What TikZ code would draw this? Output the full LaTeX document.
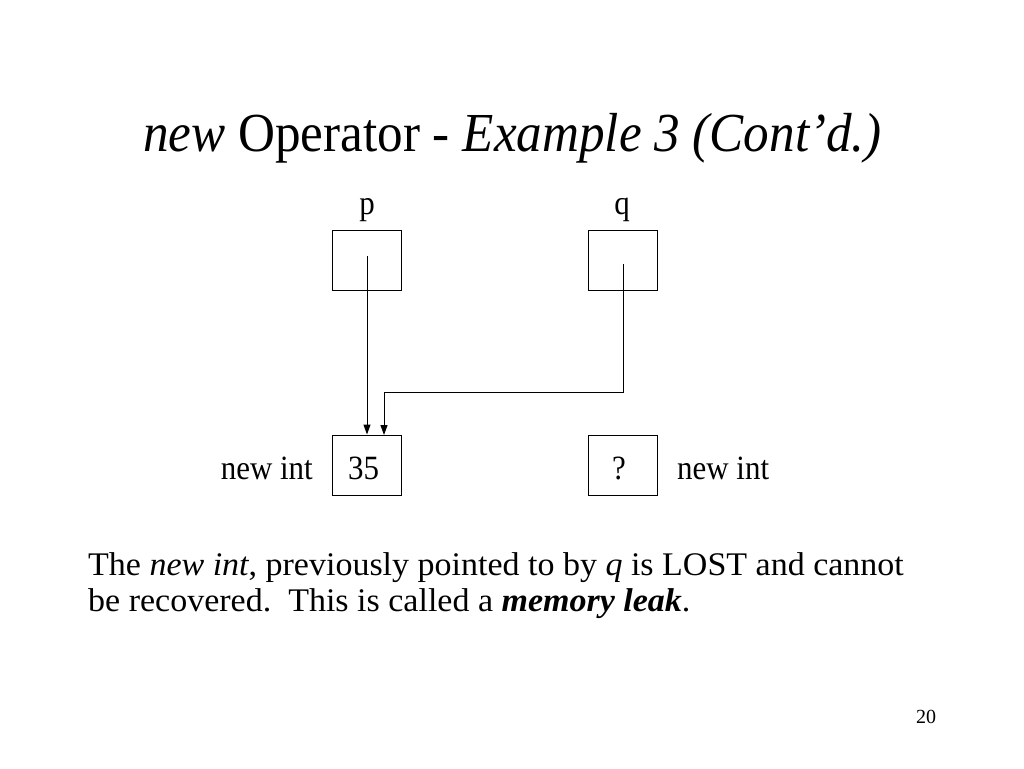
\documentclass[tikz,border=0pt]{standalone}
\usepackage{fontspec}
\usepackage{graphicx}
\setmainfont{Liberation Serif}
\usetikzlibrary{arrows.meta}
\tikzset{
  cell/.style={draw, line width=1pt, minimum width=69pt, minimum height=60pt, inner sep=0pt},
  lbl/.style={inner sep=0pt, font=\fontsize{34}{40}\selectfont},
  body/.style={inner sep=0pt, anchor=base west, font=\fontsize{33}{40}\selectfont},
  ptr/.style={line width=1pt, -{Triangle[length=10pt,width=7pt]}}
}
\newcommand{\hs}[1]{\scalebox{0.91}[1]{#1}}
\begin{document}
\begin{tikzpicture}[x=1pt,y=-1pt]
\useasboundingbox (0,0) rectangle (1024,768);
\fill[white] (0,0) rectangle (1024,768);
% title
\node[inner sep=0pt, anchor=base west, font=\fontsize{55}{62}\selectfont] (title) at (143,151)
  {\scalebox{0.93}[1]{\textit{new} Operator - \textit{Example 3 (Cont'd.)}}};
% pointer cells
\node[cell] (p) at (366.5,260) {};
\node[cell] (q) at (622.5,260) {};
\node[lbl, anchor=base] (plbl) at (367,214) {\hs{p}};
\node[lbl, anchor=base] (qlbl) at (622,214) {\hs{q}};
% int cells
\node[cell] (i1) at (366.5,465) {};
\node[cell] (i2) at (622.5,465) {};
\node[lbl, anchor=base west] (v1) at (348,479) {\hs{35}};
\node[lbl, anchor=base] (v2) at (619,479) {\hs{?}};
\node[lbl, anchor=base east] (n1) at (313,479) {\hs{new int}};
\node[lbl, anchor=base west] (n2) at (677,479) {\hs{new int}};
% arrows
\coordinate (ps) at (367,256);
\coordinate (qs) at (623,264);
\coordinate (qt) at (384,435);
\draw[ptr] (ps) -- (ps |- i1.north);
\draw[ptr] (qs) -- (623,392) -| (qt);
% body text
\node[body] (b1) at (88,575) {\scalebox{1.03}[1]{The \textit{new int}, previously pointed to by \textit{q} is LOST and cannot}};
\node[body] (b2) at (88,611) {\scalebox{1.03}[1]{be recovered.\ \ This is called a \textbf{\textit{memory leak}}.}};
% page number
\node[inner sep=0pt, anchor=base west, font=\fontsize{20}{22}\selectfont] (pg) at (916,723) {20};
\end{tikzpicture}
\end{document}
